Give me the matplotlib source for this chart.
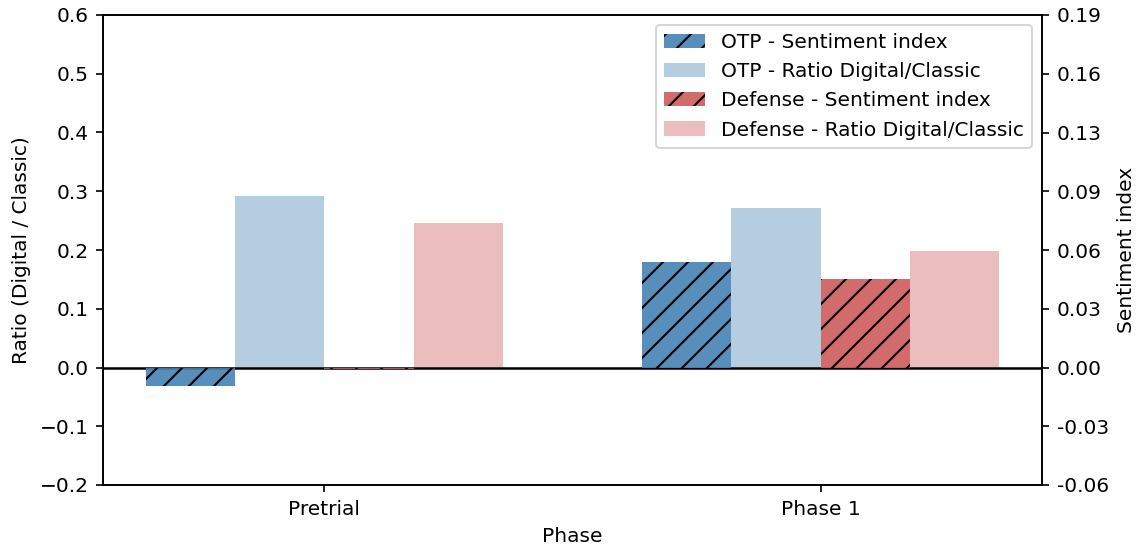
import matplotlib
matplotlib.use("Agg")
import matplotlib.pyplot as plt
import numpy as np

phases = ["Pretrial", "Phase 1"]
otp_sentiment = [-0.0098, 0.0560]
otp_ratio = [0.292, 0.2715]
def_sentiment = [-0.0010, 0.0469]
def_ratio = [0.246, 0.198]

right_ticks = [-0.0625, -0.03125, 0.0, 0.03125, 0.0625, 0.09375, 0.125, 0.15625, 0.1875]
right_labels = ["-0.06", "-0.03", "0.00", "0.03", "0.06", "0.09", "0.13", "0.16", "0.19"]

plt.rcParams['font.size'] = 9.7
plt.rcParams['hatch.linewidth'] = 1.0
dpi = 150
fig = plt.figure(figsize=(1142 / dpi, 547 / dpi), dpi=dpi)
ax = fig.add_axes([103 / 1142, 1 - 485 / 547, (1042 - 103) / 1142, (485 - 15) / 547])
ax2 = ax.twinx()

x = np.arange(len(phases))
w = 0.18
blue, red = "steelblue", "indianred"

b1 = ax2.bar(x - 1.5 * w, otp_sentiment, w, color=blue, alpha=0.9, hatch='//', label="OTP - Sentiment index")
b2 = ax.bar(x - 0.5 * w, otp_ratio, w, color=blue, alpha=0.4, label="OTP - Ratio Digital/Classic")
b3 = ax2.bar(x + 0.5 * w, def_sentiment, w, color=red, alpha=0.9, hatch='//', label="Defense - Sentiment index")
b4 = ax.bar(x + 1.5 * w, def_ratio, w, color=red, alpha=0.4, label="Defense - Ratio Digital/Classic")

ax.set_ylim(-0.2, 0.6)
ax2.set_ylim(-0.0625, 0.1875)
ax2.set_yticks(right_ticks)
ax2.set_yticklabels(right_labels)
ax.axhline(0, color='black', lw=1.2)
ax.set_xticks(x)
ax.set_xticklabels(phases)
ax.set_xlabel("Phase")
ax.set_ylabel("Ratio (Digital / Classic)")
ax2.set_ylabel("Sentiment index")

ax2.legend([b1, b2, b3, b4], [h.get_label() for h in [b1, b2, b3, b4]], loc='upper right')

fig.savefig("out.png", dpi=dpi)
